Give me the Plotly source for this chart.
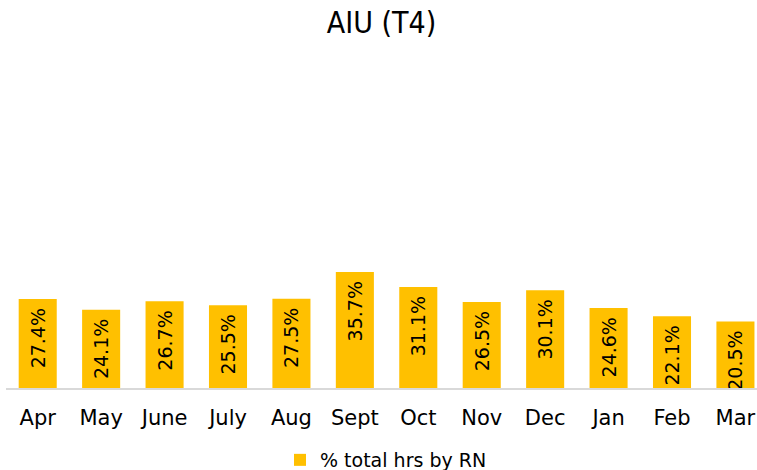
import plotly.graph_objects as go

months = ["Apr", "May", "June", "July", "Aug", "Sept", "Oct", "Nov", "Dec", "Jan", "Feb", "Mar"]
pct_rn = [27.4, 24.1, 26.7, 25.5, 27.5, 35.7, 31.1, 26.5, 30.1, 24.6, 22.1, 20.5]
series_name = "% total hrs by RN"
title_text = "AIU (T4)"

fig = go.Figure()
fig.add_trace(go.Bar(
    x=months,
    y=pct_rn,
    name=series_name,
    marker=dict(color="#FFC000", line=dict(width=0)),
    texttemplate="%{y:.1f}%\u00a0",
    textposition="inside",
    insidetextanchor="end",
    textangle=-90,
    textfont=dict(family="DejaVu Sans", size=19, color="#000000"),
    cliponaxis=False,
    showlegend=True,
))

fig.update_layout(
    width=757,
    height=470,
    paper_bgcolor="white",
    plot_bgcolor="white",
    margin=dict(l=6, r=0, t=63, b=82),
    bargap=0.4,
    uniformtext=dict(minsize=19, mode="show"),
    title=dict(
        text=title_text,
        x=0.5,
        xanchor="center",
        xref="paper",
        y=1 - 22 / 470,
        yref="container",
        yanchor="middle",
        font=dict(family="DejaVu Sans Condensed, Liberation Sans Narrow", size=30, color="#000000"),
    ),
    showlegend=True,
    legend=dict(
        orientation="h",
        x=0.506,
        xanchor="center",
        xref="paper",
        y=(470 - 460) / 470,
        yref="container",
        yanchor="middle",
        font=dict(family="DejaVu Sans", size=19, color="#000000"),
        itemwidth=30,
        bgcolor="rgba(0,0,0,0)",
    ),
    xaxis=dict(
        range=[-0.5, 11.34],
        showline=True,
        linecolor="#D9D9D9",
        linewidth=2,
        showgrid=False,
        ticks="outside",
        ticklen=10,
        tickcolor="rgba(0,0,0,0)",
        tickfont=dict(family="DejaVu Sans", size=21, color="#000000"),
        fixedrange=True,
    ),
    yaxis=dict(
        range=[0, 100],
        visible=False,
        showgrid=False,
        zeroline=False,
        fixedrange=True,
    ),
)

fig.write_html(
    "out.html",
    config={"displayModeBar": False},
    post_script="document.body.style.margin='0';",
)
